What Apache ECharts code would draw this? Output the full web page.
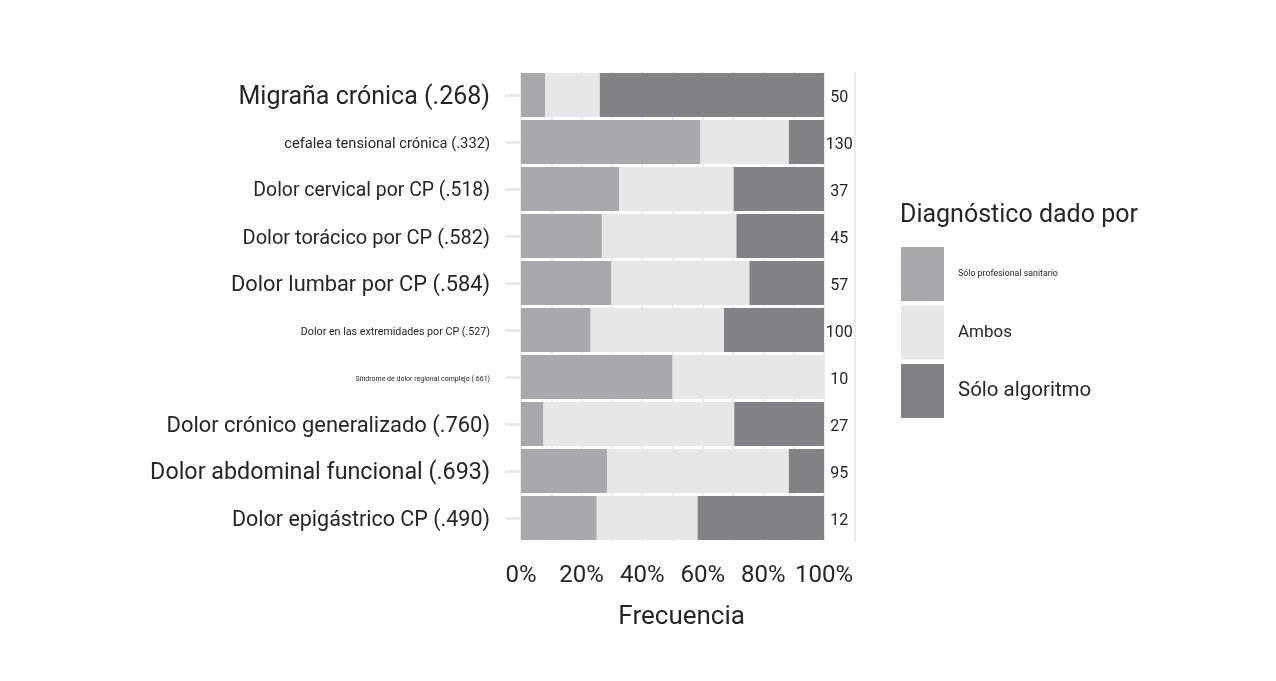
<!DOCTYPE html>
<html lang="es">
<head>
  <meta charset="UTF-8">
  <title>Diagnóstico dado por</title>
  <script src="https://cdn.jsdelivr.net/npm/echarts@6/dist/echarts.min.js"></script>
  <style>
    body { margin: 0; padding: 0; background: #fff; }
    #chart { width: 1276px; height: 681px; }
  </style>
</head>
<body>
  <div id="chart"></div>
  <script>
    // categorias (de arriba abajo)
    var categories = [
      'Migraña crónica (.268)',
      'cefalea tensional crónica (.332)',
      'Dolor cervical por CP (.518)',
      'Dolor torácico por CP (.582)',
      'Dolor lumbar por CP (.584)',
      'Dolor en las extremidades por CP (.527)',
      'Síndrome de dolor regional complejo (.661)',
      'Dolor crónico generalizado (.760)',
      'Dolor abdominal funcional (.693)',
      'Dolor epigástrico CP (.490)'
    ];
    // n de cada diagnostico
    var counts = [50, 130, 37, 45, 57, 100, 10, 27, 95, 12];
    // porcentajes
    var profesional = [8, 59.2, 32.4, 26.7, 29.8, 23, 50, 7.4, 28.4, 25];
    var ambos = [18, 29.2, 37.8, 44.4, 45.6, 44, 50, 63.0, 60, 33.3];
    var algoritmo = [74, 11.6, 29.8, 28.9, 24.6, 33, 0, 29.6, 11.6, 41.7];
    var xTicks = [0, 20, 40, 60, 80, 100];
    var seriesNames = ['Sólo profesional sanitario', 'Ambos', 'Sólo algoritmo'];

    // tamaños de letra tal como aparecen en la figura
    var labelSizes = [25, 14.7, 19.4, 20, 21.8, 10.7, 7, 21.9, 23.3, 21.5];
    var legendSizes = [8.8, 17, 20.5];
    var colors = ['#a7a9ac', '#e6e7e8', '#808285'];
    var FONT = 'Roboto';
    var TXT = '#262626';

    var chart = echarts.init(document.getElementById('chart'));

    // cada etiqueta con su tamaño; bajada unos px para centrarla en la barra
    var yData = categories.map(function (c, i) {
      return {
        value: c,
        textStyle: { fontSize: labelSizes[i], verticalAlign: 'top', lineHeight: 5 }
      };
    });

    var option = {
      animation: false,
      textStyle: { fontFamily: FONT },
      title: {
        text: 'Diagnóstico dado por',
        left: 900,
        top: 203,
        padding: 0,
        textStyle: { fontFamily: FONT, fontSize: 25, fontWeight: 'normal', color: TXT }
      },
      legend: {
        orient: 'vertical',
        left: 901,
        top: 247,
        padding: 0,
        icon: 'rect',
        itemWidth: 43,
        itemHeight: 54,
        itemGap: 4.5,
        selectedMode: false,
        textStyle: { fontFamily: FONT, color: TXT, padding: [3, 0, 0, 9] },
        data: seriesNames.map(function (n, i) {
          return { name: n, textStyle: { fontSize: legendSizes[i] } };
        })
      },
      grid: {
        left: 521,
        right: 421.7,
        top: 71.5,
        bottom: 139.5
      },
      xAxis: {
        type: 'value',
        min: 0,
        max: 110,
        interval: 10,
        name: 'Frecuencia',
        nameLocation: 'middle',
        nameGap: 63,
        nameTextStyle: { fontFamily: FONT, fontSize: 26, color: TXT, padding: [0, 12, 0, 0] },
        axisLine: { show: false },
        axisTick: { show: false },
        axisLabel: {
          margin: 22,
          fontFamily: FONT,
          fontSize: 24,
          color: TXT,
          formatter: function (v) {
            return xTicks.indexOf(v) >= 0 ? v + '%' : '';
          }
        },
        splitLine: { show: true, lineStyle: { color: '#ebebeb', width: 2 } }
      },
      yAxis: [
        {
          type: 'category',
          inverse: true,
          data: yData,
          axisLine: { show: false },
          axisTick: { show: true, alignWithLabel: true, length: 16, lineStyle: { color: '#e6e6e6', width: 2.5 } },
          axisLabel: { margin: 31, color: TXT, fontFamily: FONT, verticalAlign: 'top', lineHeight: 5 }
        },
        {
          type: 'category',
          inverse: true,
          position: 'right',
          data: counts.map(String),
          axisLine: { show: false },
          axisTick: { show: false },
          axisLabel: { inside: true, margin: 15, align: 'center', fontFamily: FONT, fontSize: 16, color: TXT, verticalAlign: 'top', lineHeight: 6 }
        }
      ],
      series: [
        { name: seriesNames[0], type: 'bar', stack: 'total', barWidth: 44, data: profesional, itemStyle: { color: colors[0] } },
        { name: seriesNames[1], type: 'bar', stack: 'total', barWidth: 44, data: ambos, itemStyle: { color: colors[1] } },
        { name: seriesNames[2], type: 'bar', stack: 'total', barWidth: 44, data: algoritmo, itemStyle: { color: colors[2] } }
      ]
    };

    chart.setOption(option);
  </script>
</body>
</html>
